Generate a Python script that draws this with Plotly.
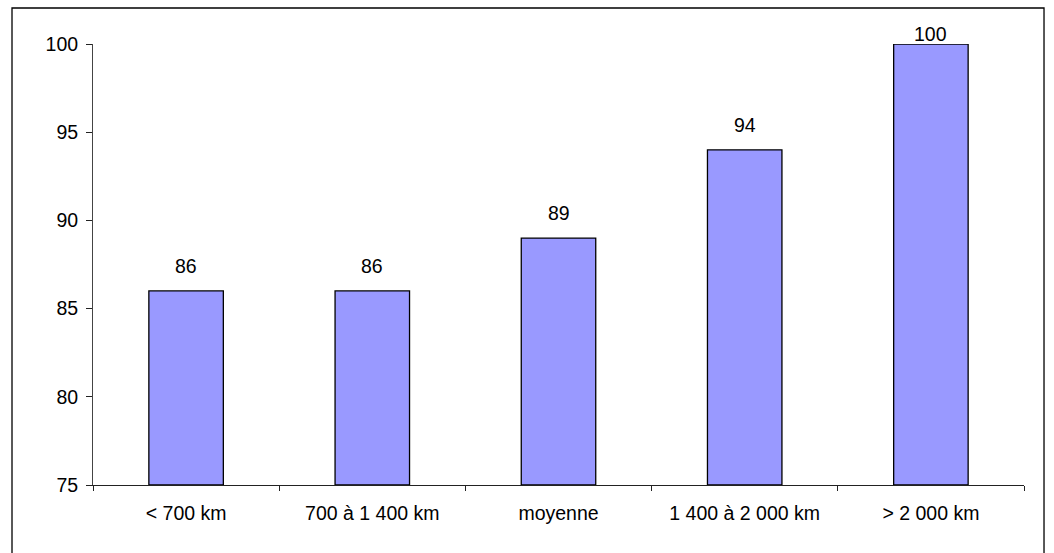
import plotly.graph_objects as go

# Distance classes and their index values
categories = ["< 700 km", "700 à 1 400 km", "moyenne", "1 400 à 2 000 km", "> 2 000 km"]
values = [86, 86, 89, 94, 100]
y_ticks = [75, 80, 85, 90, 95, 100]

Y_MIN, Y_MAX = 75, 100
FONT = dict(family="Liberation Sans, Arial, sans-serif", size=19.5, color="black")

fig = go.Figure()
fig.add_trace(go.Bar(
    x=categories,
    y=[v - Y_MIN for v in values],
    base=Y_MIN,
    marker=dict(color="#9999FF", line=dict(color="black", width=1.3)),
    width=0.4,
    hoverinfo="skip",
))

# Value labels above each bar; the top bar's label hugs the plot edge
for cat, v in zip(categories, values):
    fig.add_annotation(
        x=cat, y=v, text=str(v), showarrow=False,
        xref="x", yref="y", yanchor="bottom",
        yshift=12 if v < Y_MAX else -3,
        font=FONT,
    )

# Outer chart frame
fig.add_shape(
    type="rect", xref="paper", yref="paper",
    x0=-0.0870, x1=1.0215, y0=-0.165, y1=1.0816,
    line=dict(color="black", width=1.3), fillcolor="rgba(0,0,0,0)",
    layer="below",
)

fig.update_layout(
    width=1054, height=553,
    margin=dict(l=93, r=30, t=44, b=68),
    plot_bgcolor="white", paper_bgcolor="white",
    showlegend=False,
    font=FONT,
)
fig.update_xaxes(
    type="category", showgrid=False, showline=True, linecolor="#222", linewidth=1,
    ticks="outside", ticklen=5, tickcolor="#222", tickson="boundaries",
    tickfont=FONT, ticklabelstandoff=11,
)
fig.update_yaxes(
    range=[Y_MIN, Y_MAX], tickvals=y_ticks, showgrid=False, zeroline=False,
    showline=True, linecolor="#444", linewidth=1,
    ticks="outside", ticklen=6, tickcolor="#222",
    tickfont=FONT, ticklabelstandoff=4,
)

fig.write_html("out.html")
